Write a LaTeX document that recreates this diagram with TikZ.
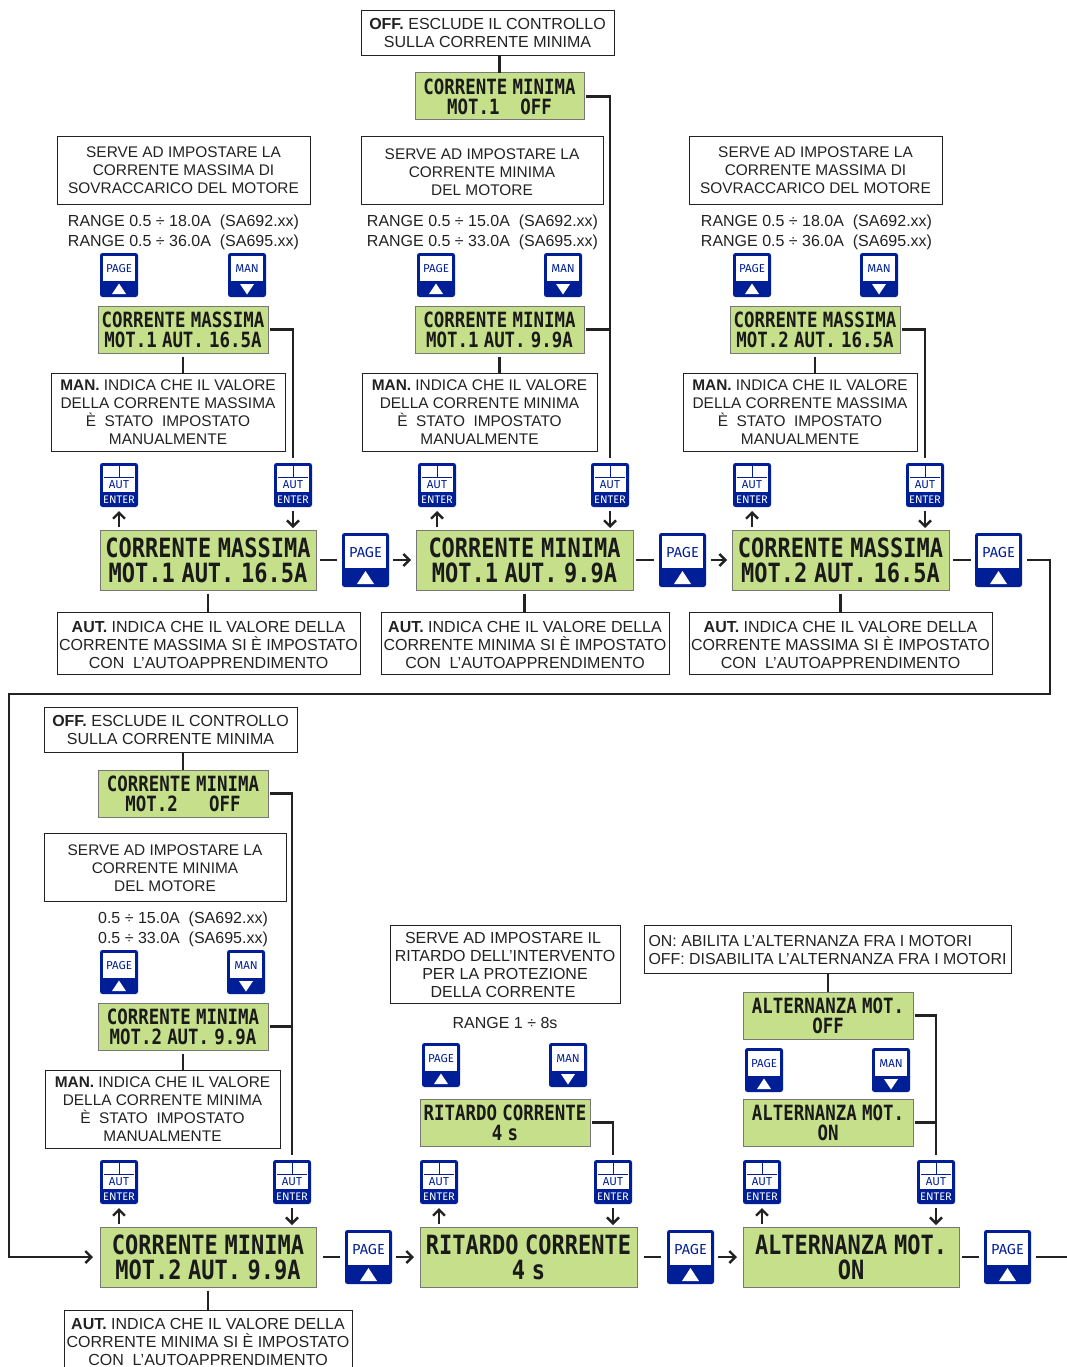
\documentclass[tikz,border=0pt]{standalone}
\usepackage{fontspec}
\usetikzlibrary{arrows.meta,calc}
\setmainfont{Liberation Sans}
\newfontfamily\lcdfam[FakeStretch=0.83,WordSpace=0.5]{DejaVu Sans Mono}
\newfontfamily\btnfam{Fira Sans}
\definecolor{lcdg}{HTML}{C6DF8A}
\definecolor{lcdb}{HTML}{777777}
\definecolor{ink}{HTML}{222222}
\definecolor{lcdk}{HTML}{1A1A1A}
\definecolor{btnb}{HTML}{001F96}
\tikzset{
 x=1pt,y=-1pt,
 notebox/.style={draw=ink,line width=0.8pt,fill=white,inner sep=0pt,outer sep=0pt,align=center,text=ink,font=\fontsize{16}{18}\selectfont},
 notesm/.style={notebox,font=\fontsize{15.4}{18}\selectfont},
 plaintxt/.style={inner sep=0pt,outer sep=0pt,align=center,text=ink,font=\fontsize{16}{20}\selectfont},
 lcdS/.style={draw=lcdb,line width=1pt,fill=lcdg,inner sep=0pt,outer sep=0pt,align=center,text=lcdk,font=\fontsize{21}{20}\lcdfam\bfseries\selectfont},
 lcdB/.style={draw=lcdb,line width=1pt,fill=lcdg,inner sep=0pt,outer sep=0pt,align=center,text=lcdk,font=\fontsize{26.5}{25}\lcdfam\bfseries\selectfont},
 conn/.style={draw=ink,line width=2.6pt},
 arr/.style={conn,-{Straight Barb[length=6pt,width=12pt,line width=2.4pt]}},
 btnbody/.style={fill=btnb,rounded corners=2.5pt,inner sep=0pt,outer sep=0pt},
 btxt/.style={inner sep=0pt,outer sep=0pt,text=btnb},
}
% name, x1,y1,x2,y2, style, text
\newcommand\boxed[7]{%
 \pgfmathsetmacro\bw{#4-#2}\pgfmathsetmacro\bh{#5-#3}%
 \pgfmathsetmacro\bcx{(#2+#4)/2}\pgfmathsetmacro\bcy{(#3+#5)/2}%
 \node[#6,minimum width=\bw pt,minimum height=\bh pt] (#1) at (\bcx,\bcy) {#7};}
\newcommand\smallbtn[5]{%
 \pgfmathsetmacro\bcx{#2+19}\pgfmathsetmacro\bcy{#3+22}%
 \node[btnbody,minimum width=38pt,minimum height=44pt] (#1) at (\bcx,\bcy) {};
 \begin{scope}[shift={(#2,#3)}]
 \fill[white] (3,3) rectangle (35,28);
 \node[btxt,font=\btnfam\fontsize{11.5}{12}\selectfont] (#1t) at (19,15.5) {#4};
 \ifnum#5=1 \fill[white] (19,30.5)--(26,41)--(12,41)--cycle;
 \else \fill[white] (19,41.5)--(26,31)--(12,31)--cycle; \fi
 \end{scope}}
\newcommand\bigbtn[3]{%
 \pgfmathsetmacro\bcx{#2+23.5}\pgfmathsetmacro\bcy{#3+27}%
 \node[btnbody,minimum width=47pt,minimum height=54pt] (#1) at (\bcx,\bcy) {};
 \begin{scope}[shift={(#2,#3)}]
 \fill[white] (3,3) rectangle (44,35);
 \node[btxt,font=\btnfam\fontsize{14.5}{15}\selectfont] (#1t) at (23.5,19) {PAGE};
 \fill[white] (23.5,38)--(32,51)--(15,51)--cycle;
 \end{scope}}
\newcommand\autbtn[3]{%
 \pgfmathsetmacro\bcx{#2+19}\pgfmathsetmacro\bcy{#3+22}%
 \node[btnbody,minimum width=38pt,minimum height=44pt] (#1) at (\bcx,\bcy) {};
 \begin{scope}[shift={(#2,#3)}]
 \fill[white] (3,3) rectangle (35,29);
 \draw[btnb,line width=0.9pt] (4,14)--(34,14) (19,3)--(19,14);
 \node[btxt,font=\btnfam\fontsize{11.5}{12}\selectfont] (#1a) at (19,22) {AUT};
 \node[btxt,text=white,font=\btnfam\fontsize{11}{12}\selectfont] (#1e) at (19,36.5) {ENTER};
 \end{scope}}
% connector helpers
\newcommand\arup[2]{\draw[arr] ([yshift=3pt]#1.south |- #2.north) -- ([yshift=-4pt]#1.south);}
\newcommand\ardn[2]{\draw[arr] ([yshift=-4pt]#1.south) -- ([yshift=2pt]#1.south |- #2.north);}
\newcommand\tiedn[2]{\draw[conn] ([yshift=-3.5pt]#1.south) -- (#1.south |- #2.north);}
\newcommand\tieup[2]{\draw[conn] (#1.north |- #2.south) -- (#1.north);}
\newcommand\branch[2]{\draw[conn] ([xshift=2pt]#1.east) -| ([yshift=5pt]#2.north);}
\newcommand\join[2]{\draw[conn] ([xshift=2pt]#1.east) -- (#1.east -| #2.north);}
\newcommand\lift[1]{\rule{0pt}{#1pt}}
\begin{document}
\begin{tikzpicture}
\clip (0,0) rectangle (1067,1367);
\fill[white] (0,0) rectangle (1067,1367);
% ---------- column 1 top
\boxed{nS1}{57}{136}{310}{204}{notesm}{SERVE AD IMPOSTARE LA\\CORRENTE MASSIMA DI\\SOVRACCARICO DEL MOTORE}
\node[plaintxt] (r1) at (183.5,232) {RANGE 0.5 ÷ 18.0A~~(SA692.xx)\\RANGE 0.5 ÷ 36.0A~~(SA695.xx)};
\smallbtn{p1}{100}{253}{PAGE}{1}
\smallbtn{m1}{228}{253}{MAN}{0}
\boxed{ls1}{98}{306}{268}{353}{lcdS}{CORRENTE MASSIMA\\MOT.1 AUT. 16.5A}
\boxed{nM1}{51}{373}{285}{451}{notesm}{\textbf{MAN.} INDICA CHE IL VALORE\\DELLA CORRENTE MASSIMA\\È~~STATO~~IMPOSTATO\\MANUALMENTE}
\autbtn{a1}{100}{463}
\autbtn{e1}{274}{463}
\boxed{lb1}{100}{530}{316}{590}{lcdB}{CORRENTE MASSIMA\\MOT.1 AUT. 16.5A}
\bigbtn{P1}{342}{533}
\boxed{nA1}{57}{612}{360}{674}{notebox}{\lift{15.5}\textbf{AUT.} INDICA CHE IL VALORE DELLA\\CORRENTE MASSIMA SI È IMPOSTATO\\CON~~L’AUTOAPPRENDIMENTO}
% ---------- column 2 top
\boxed{nO2}{361}{10}{614}{55}{notebox}{\textbf{OFF.} ESCLUDE IL CONTROLLO\\SULLA CORRENTE MINIMA}
\boxed{lo2}{415}{73}{584}{120}{lcdS}{CORRENTE MINIMA\\MOT.1~~~~OFF}
\boxed{nS2}{361}{136}{603}{204}{notesm}{\lift{15}SERVE AD IMPOSTARE LA\\CORRENTE MINIMA\\DEL MOTORE}
\node[plaintxt] (r2) at (482.5,232) {RANGE 0.5 ÷ 15.0A~~(SA692.xx)\\RANGE 0.5 ÷ 33.0A~~(SA695.xx)};
\smallbtn{p2}{417}{253}{PAGE}{1}
\smallbtn{m2}{544}{253}{MAN}{0}
\boxed{ls2}{415}{306}{584}{353}{lcdS}{CORRENTE MINIMA\\MOT.1 AUT. 9.9A}
\boxed{nM2}{362}{373}{597}{451}{notesm}{\textbf{MAN.} INDICA CHE IL VALORE\\DELLA CORRENTE MINIMA\\È~~STATO~~IMPOSTATO\\MANUALMENTE}
\autbtn{a2}{418}{463}
\autbtn{e2}{591}{463}
\boxed{lb2}{416}{530}{633}{590}{lcdB}{CORRENTE MINIMA\\MOT.1 AUT. 9.9A}
\bigbtn{P2}{659}{533}
\boxed{nA2}{381}{612}{669}{674}{notebox}{\lift{15.5}\textbf{AUT.} INDICA CHE IL VALORE DELLA\\CORRENTE MINIMA SI È IMPOSTATO\\CON~~L’AUTOAPPRENDIMENTO}
% ---------- column 3 top
\boxed{nS3}{689}{136}{942}{204}{notesm}{SERVE AD IMPOSTARE LA\\CORRENTE MASSIMA DI\\SOVRACCARICO DEL MOTORE}
\node[plaintxt] (r3) at (816.5,232) {RANGE 0.5 ÷ 18.0A~~(SA692.xx)\\RANGE 0.5 ÷ 36.0A~~(SA695.xx)};
\smallbtn{p3}{733}{253}{PAGE}{1}
\smallbtn{m3}{860}{253}{MAN}{0}
\boxed{ls3}{730}{306}{900}{353}{lcdS}{CORRENTE MASSIMA\\MOT.2 AUT. 16.5A}
\boxed{nM3}{683}{373}{917}{451}{notesm}{\textbf{MAN.} INDICA CHE IL VALORE\\DELLA CORRENTE MASSIMA\\È~~STATO~~IMPOSTATO\\MANUALMENTE}
\autbtn{a3}{733}{463}
\autbtn{e3}{906}{463}
\boxed{lb3}{732}{530}{949}{590}{lcdB}{CORRENTE MASSIMA\\MOT.2 AUT. 16.5A}
\bigbtn{P3}{975}{533}
\boxed{nA3}{689}{612}{992}{674}{notebox}{\lift{15.5}\textbf{AUT.} INDICA CHE IL VALORE DELLA\\CORRENTE MASSIMA SI È IMPOSTATO\\CON~~L’AUTOAPPRENDIMENTO}
% ---------- lower column 1
\boxed{nO4}{44}{707}{297}{752}{notebox}{\textbf{OFF.} ESCLUDE IL CONTROLLO\\SULLA CORRENTE MINIMA}
\boxed{lo4}{98}{770}{268}{817}{lcdS}{CORRENTE MINIMA\\MOT.2~~~~~~OFF}
\boxed{nS4}{44}{833}{286}{901}{notesm}{\lift{13.5}SERVE AD IMPOSTARE LA\\CORRENTE MINIMA\\DEL MOTORE}
\node[plaintxt] (r4) at (183,929) {0.5 ÷ 15.0A~~(SA692.xx)\\0.5 ÷ 33.0A~~(SA695.xx)};
\smallbtn{p4}{100}{950}{PAGE}{1}
\smallbtn{m4}{227}{950}{MAN}{0}
\boxed{ls4}{98}{1003}{268}{1050}{lcdS}{CORRENTE MINIMA\\MOT.2 AUT. 9.9A}
\boxed{nM4}{45}{1070}{280}{1148}{notesm}{\textbf{MAN.} INDICA CHE IL VALORE\\DELLA CORRENTE MINIMA\\È~~STATO~~IMPOSTATO\\MANUALMENTE}
\autbtn{a4}{100}{1160}
\autbtn{e4}{273}{1160}
\boxed{lb4}{100}{1227}{316}{1287}{lcdB}{CORRENTE MINIMA\\MOT.2 AUT. 9.9A}
\bigbtn{P4}{345}{1230}
\boxed{nA4}{64}{1310}{352}{1374}{notebox}{\textbf{AUT.} INDICA CHE IL VALORE DELLA\\CORRENTE MINIMA SI È IMPOSTATO\\CON~~L’AUTOAPPRENDIMENTO}
% ---------- lower column 2
\boxed{nS5}{390}{925}{620}{1003}{notebox}{\lift{13.5}SERVE AD IMPOSTARE IL\hspace*{4pt}\\RITARDO DELL’INTERVENTO\hspace*{4pt}\\PER LA PROTEZIONE\hspace*{4pt}\\DELLA CORRENTE\hspace*{4pt}}
\node[plaintxt] (r5) at (505,1023) {RANGE 1 ÷ 8s};
\smallbtn{p5}{422}{1043}{PAGE}{1}
\smallbtn{m5}{549}{1043}{MAN}{0}
\boxed{ls5}{420}{1099}{590}{1146}{lcdS}{RITARDO CORRENTE\\4 s}
\autbtn{a5}{420}{1160}
\autbtn{e5}{594}{1160}
\boxed{lb5}{420}{1227}{637}{1287}{lcdB}{RITARDO CORRENTE\\4 s}
\bigbtn{P5}{667}{1230}
% ---------- lower column 3
\boxed{nS6}{644}{925}{1011}{973}{notebox,align=left,font=\fontsize{15.9}{18}\selectfont}{\lift{13.5}ON: ABILITA L’ALTERNANZA FRA I MOTORI\\OFF: DISABILITA L’ALTERNANZA FRA I MOTORI}
\boxed{lo6}{743}{992}{913}{1039}{lcdS}{ALTERNANZA MOT.\\OFF}
\smallbtn{p6}{745}{1048}{PAGE}{1}
\smallbtn{m6}{872}{1048}{MAN}{0}
\boxed{ls6}{743}{1099}{913}{1146}{lcdS}{ALTERNANZA MOT.\\ON}
\autbtn{a6}{743}{1160}
\autbtn{e6}{917}{1160}
\boxed{lb6}{743}{1227}{959}{1287}{lcdB}{ALTERNANZA MOT.\\ON}
\bigbtn{P6}{984}{1230}
\coordinate (endR) at (1067,1257);
\coordinate (ccR) at (1050,694);
\coordinate (ccL) at (9,694);
% ---------- connectors
\tieup{lo2}{nO2}
\tieup{lo4}{nO4}
\tieup{lo6}{nS6}
\tiedn{ls1}{nM1}
\tiedn{ls2}{nM2}
\tiedn{ls3}{nM3}
\tiedn{ls4}{nM4}
\tiedn{lb1}{nA1}
\tiedn{lb2}{nA2}
\tiedn{lb3}{nA3}
\tiedn{lb4}{nA4}
\branch{ls1}{e1}
\branch{lo2}{e2}
\join{ls2}{e2}
\branch{ls3}{e3}
\branch{lo4}{e4}
\join{ls4}{e4}
\branch{ls5}{e5}
\branch{lo6}{e6}
\join{ls6}{e6}
\arup{a1}{lb1}\ardn{e1}{lb1}
\arup{a2}{lb2}\ardn{e2}{lb2}
\arup{a3}{lb3}\ardn{e3}{lb3}
\arup{a4}{lb4}\ardn{e4}{lb4}
\arup{a5}{lb5}\ardn{e5}{lb5}
\arup{a6}{lb6}\ardn{e6}{lb6}
\draw[conn] ([xshift=4pt]lb1.east) -- ([xshift=-5pt]P1.west);
\draw[arr] ([xshift=4pt]P1.east) -- ([xshift=-5pt]lb2.west);
\draw[conn] ([xshift=3pt]lb2.east) -- ([xshift=-5pt]P2.west);
\draw[arr] ([xshift=5pt]P2.east) -- ([xshift=-5pt]lb3.west);
\draw[conn] ([xshift=4pt]lb3.east) -- ([xshift=-4pt]P3.west);
\draw[arr] ([xshift=5pt]P3.east) -| (ccR) -- (ccL) |- ([xshift=-7pt]lb4.west);
\draw[conn] ([xshift=7pt]lb4.east) -- ([xshift=-5pt]P4.west);
\draw[arr] ([xshift=4pt]P4.east) -- ([xshift=-6pt]lb5.west);
\draw[conn] ([xshift=7pt]lb5.east) -- ([xshift=-6pt]P5.west);
\draw[arr] ([xshift=4pt]P5.east) -- ([xshift=-6pt]lb6.west);
\draw[conn] ([xshift=3pt]lb6.east) -- ([xshift=-5pt]P6.west);
\draw[conn] ([xshift=5pt]P6.east) -- (endR);
\end{tikzpicture}
\end{document}
